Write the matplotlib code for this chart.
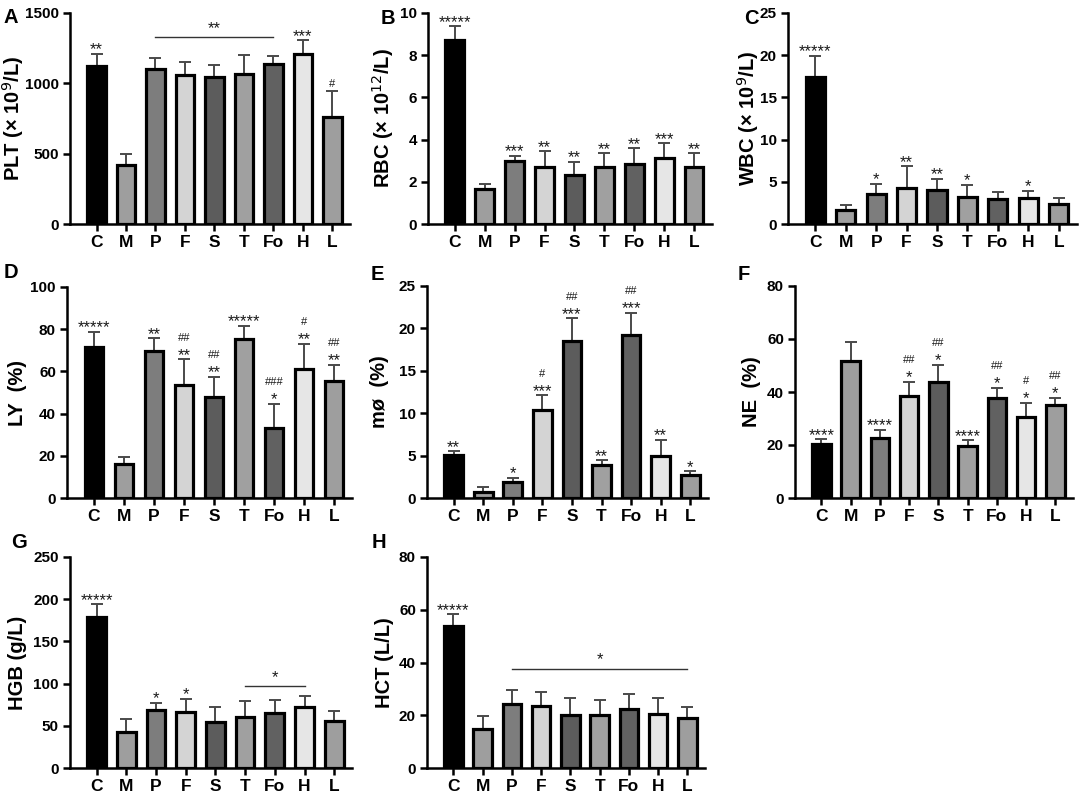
import matplotlib.pyplot as plt

plt.rcParams["font.family"] = ["Liberation Sans", "DejaVu Sans"]

groups = ["C", "M", "P", "F", "S", "T", "Fo", "H", "L"]
bar_colors = ["#000000", "#9e9e9e", "#7d7d7d", "#d4d4d4", "#5c5c5c",
              "#a0a0a0", "#616161", "#e6e6e6", "#9e9e9e"]

plt_mean = [1120, 420, 1100, 1060, 1042, 1068, 1137, 1208, 760]
plt_sd = [90, 76, 80, 91, 88, 135, 54, 97, 182]
plt_marks = ["**", "", "", "", "", "", "", "***", "#"]

rbc_mean = [8.70, 1.66, 3.00, 2.72, 2.32, 2.72, 2.83, 3.14, 2.69]
rbc_sd = [0.67, 0.24, 0.24, 0.73, 0.63, 0.63, 0.76, 0.68, 0.66]
rbc_marks = ["*****", "", "***", "**", "**", "**", "**", "***", "**"]

wbc_mean = [17.4, 1.66, 3.56, 4.23, 4.07, 3.16, 2.97, 3.09, 2.37]
wbc_sd = [2.5, 0.54, 1.19, 2.61, 1.27, 1.47, 0.79, 0.87, 0.72]
wbc_marks = ["*****", "", "*", "**", "**", "*", "", "*", ""]

ly_mean = [71.7, 16.1, 69.6, 53.5, 48.0, 75.3, 33.1, 61.1, 55.4]
ly_sd = [7.0, 3.1, 6.0, 12.2, 9.5, 6.3, 11.5, 12.1, 7.6]
ly_marks = ["*****", "", "**", "##\n**", "##\n**", "*****", "###\n*", "#\n**", "##\n**"]

mo_mean = [5.1, 0.67, 1.84, 10.4, 18.5, 3.85, 19.2, 4.9, 2.75]
mo_sd = [0.4, 0.59, 0.51, 1.7, 2.7, 0.58, 2.6, 1.97, 0.39]
mo_marks = ["**", "", "*", "#\n***", "##\n***", "**", "##\n***", "**", "*"]

ne_mean = [20.3, 51.7, 22.6, 38.6, 43.9, 19.8, 37.6, 30.7, 35.1]
ne_sd = [1.9, 7.0, 3.1, 5.3, 6.3, 1.9, 4.0, 5.3, 2.8]
ne_marks = ["****", "", "****", "##\n*", "##\n*", "****", "##\n*", "#\n*", "##\n*"]

hgb_mean = [179, 42.7, 69, 66, 54.5, 61, 65, 72, 55.3]
hgb_sd = [15, 15.3, 8, 16, 17.5, 18, 15, 13, 11.7]
hgb_marks = ["*****", "", "*", "*", "", "", "", "", ""]

hct_mean = [53.7, 14.8, 24.3, 23.4, 20.0, 20.2, 22.4, 20.6, 18.8]
hct_sd = [4.5, 4.8, 5.4, 5.6, 6.5, 5.7, 5.7, 5.8, 4.3]
hct_marks = ["*****", "", "", "", "", "", "", "", ""]

# (from group, to group, height, label)
plt_bracket = (2, 6, 1327, "**")
hgb_bracket = (5, 7, 97, "*")
hct_bracket = (2, 8, 37.7, "*")

# letter, axes box in pixels (left, top, right, bottom), ylabel right edge px
panels = [
    ("A", [70, 13, 350, 224], 26, plt_mean, plt_sd, plt_marks, r"PLT (× 10$^{9}$/L)", 1500, 500, plt_bracket),
    ("B", [428, 13, 712, 224], 396, rbc_mean, rbc_sd, rbc_marks, r"RBC (× 10$^{12}$/L)", 10, 2, None),
    ("C", [788, 13, 1077, 224], 761, wbc_mean, wbc_sd, wbc_marks, r"WBC (× 10$^{9}$/L)", 25, 5, None),
    ("D", [67, 287, 352, 498], 27, ly_mean, ly_sd, ly_marks, "LY  (%)", 100, 20, None),
    ("E", [427, 286, 708, 498], 389, mo_mean, mo_sd, mo_marks, "mø  (%)", 25, 5, None),
    ("F", [795, 286, 1073, 498], 761, ne_mean, ne_sd, ne_marks, "NE  (%)", 80, 20, None),
    ("G", [70, 557, 352, 768], 27, hgb_mean, hgb_sd, hgb_marks, "HGB (g/L)", 250, 50, hgb_bracket),
    ("H", [427, 557, 705, 768], 394, hct_mean, hct_sd, hct_marks, "HCT (L/L)", 80, 20, hct_bracket),
]
letter_pos = {"A": (4, 8), "B": (381, 9), "C": (744, 9), "D": (4, 263),
              "E": (371, 265), "F": (738, 265), "G": (11, 533), "H": (372, 533)}

star_font = {"fontsize": 12, "color": "#1a1a1a"}
hash_font = {"fontsize": 8, "color": "#1a1a1a"}


def put_mark(ax, x, y, mark):
    lines = mark.split("\n")
    low = lines[-1]
    if "*" in low:
        ax.annotate(low, (x, y), xytext=(0, -2.5), textcoords="offset points",
                    ha="center", va="bottom", **star_font)
    else:
        ax.annotate(low, (x, y), xytext=(0, 1.5), textcoords="offset points",
                    ha="center", va="bottom", **hash_font)
    if len(lines) > 1:
        ax.annotate(lines[0], (x, y), xytext=(0, 12), textcoords="offset points",
                    ha="center", va="bottom", **hash_font)


W, H = 1079, 791
fig = plt.figure(figsize=(W / 100, H / 100), dpi=100)

for letter, box, lab_x, mean, sd, marks, ylabel, ymax, ystep, bracket in panels:
    x0, y0, x1, y1 = box
    ax = fig.add_axes([x0 / W, 1 - y1 / H, (x1 - x0) / W, (y1 - y0) / H])
    xs = list(range(len(groups)))
    ax.bar(xs, mean, width=0.63, color=bar_colors, edgecolor="black", linewidth=2.3, zorder=2)
    ax.errorbar(xs, mean, yerr=[[0] * len(sd), sd], fmt="none", ecolor="#4a4a4a",
                elinewidth=1.4, capsize=4.5, capthick=1.4, zorder=1)
    for x, m, s, mk in zip(xs, mean, sd, marks):
        if mk:
            put_mark(ax, x, m + s, mk)
    if bracket:
        b0, b1, bh, blab = bracket
        ax.plot([b0, b1], [bh, bh], color="#333333", linewidth=1.0)
        ax.annotate(blab, ((b0 + b1) / 2, bh), xytext=(0, 1), textcoords="offset points",
                    ha="center", va="bottom", **star_font)
    ax.set_xlim(-0.9, 8.6)
    ax.set_ylim(0, ymax)
    ax.set_yticks(range(0, ymax + 1, ystep))
    ax.set_xticks(xs)
    ax.set_xticklabels(groups, fontweight="bold", fontsize=12.5)
    for t in ax.get_yticklabels():
        t.set_fontweight("bold")
        t.set_fontsize(11)
    ax.set_ylabel(ylabel, fontweight="bold", fontsize=14.5)
    ax.yaxis.set_label_coords((lab_x - x0) / (x1 - x0), 0.5)
    for side in ["top", "right"]:
        ax.spines[side].set_visible(False)
    for side in ["left", "bottom"]:
        ax.spines[side].set_linewidth(1.8)
    ax.tick_params(axis="both", direction="out", length=5, width=1.8, pad=3)
    ax.patch.set_alpha(0)
    lx, ly = letter_pos[letter]
    fig.text(lx / W, 1 - ly / H, letter, fontsize=14.5, fontweight="bold", va="top", ha="left")

fig.savefig("out.png", dpi=100)
